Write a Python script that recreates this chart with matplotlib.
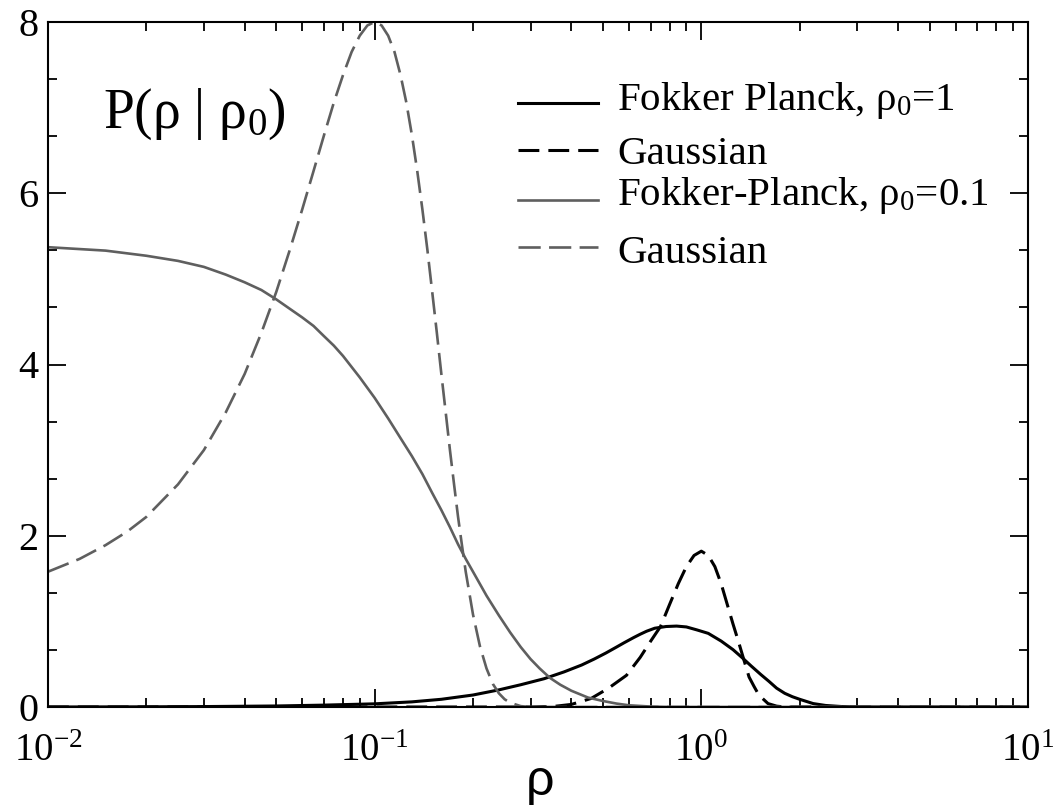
import matplotlib
matplotlib.use("Agg")
import matplotlib.pyplot as plt
from matplotlib.ticker import LogLocator, MultipleLocator, FixedFormatter, FixedLocator, NullFormatter

plt.rcParams['font.family'] = ['Liberation Serif', 'DejaVu Serif']
plt.rcParams['mathtext.fontset'] = 'custom'
plt.rcParams['mathtext.rm'] = 'Liberation Serif'
plt.rcParams['mathtext.it'] = 'Liberation Serif:italic'
plt.rcParams['mathtext.bf'] = 'Liberation Serif:bold'
plt.rcParams['lines.scale_dashes'] = False

# Fokker Planck, rho0 = 1 (black solid)
rho_fp1 = [0.01, 0.02, 0.03, 0.05, 0.07, 0.1, 0.13, 0.16, 0.2, 0.24, 0.28, 0.33, 0.38,
           0.43, 0.47, 0.51, 0.55, 0.58, 0.62, 0.65, 0.68, 0.72, 0.78, 0.84, 0.9, 0.97,
           1.05, 1.15, 1.25, 1.33, 1.42, 1.52, 1.61, 1.7, 1.8, 1.9, 2.0, 2.2, 2.4, 2.7,
           3.0, 10.0]
p_fp1 = [0.0, 0.002, 0.005, 0.012, 0.022, 0.037, 0.06, 0.09, 0.14, 0.2, 0.26, 0.33, 0.41,
         0.49, 0.56, 0.63, 0.70, 0.75, 0.81, 0.85, 0.885, 0.92, 0.94, 0.945, 0.935, 0.9,
         0.86, 0.77, 0.67, 0.58, 0.48, 0.38, 0.3, 0.22, 0.16, 0.12, 0.09, 0.04, 0.018, 0.005,
         0.0, 0.0]

# Gaussian, rho0 = 1 (black dashed)
rho_g1 = [0.01, 0.3, 0.35, 0.4, 0.46, 0.52, 0.59, 0.65, 0.7, 0.75, 0.8, 0.85, 0.9, 0.95,
          1.0, 1.05, 1.1, 1.15, 1.2, 1.25, 1.3, 1.35, 1.4, 1.45, 1.5, 1.6, 1.7, 1.8, 10.0]
p_g1 = [0.0, 0.0, 0.005, 0.03, 0.1, 0.22, 0.37, 0.58, 0.77, 0.94, 1.2, 1.44, 1.64, 1.77,
        1.82, 1.77, 1.64, 1.44, 1.2, 0.97, 0.76, 0.55, 0.35, 0.24, 0.14, 0.04, 0.01, 0.0, 0.0]

# Fokker-Planck, rho0 = 0.1 (grey solid)
rho_fp01 = [0.01, 0.015, 0.02, 0.025, 0.03, 0.035, 0.04, 0.045, 0.05, 0.055, 0.06, 0.065,
            0.07, 0.075, 0.08, 0.09, 0.1, 0.11, 0.12, 0.13, 0.14, 0.15, 0.16, 0.17, 0.18,
            0.19, 0.2, 0.22, 0.24, 0.26, 0.28, 0.3, 0.32, 0.344, 0.37, 0.4, 0.45, 0.5, 0.55,
            0.6, 0.7, 0.8, 10.0]
p_fp01 = [5.37, 5.33, 5.27, 5.21, 5.14, 5.05, 4.96, 4.87, 4.76, 4.65, 4.55, 4.45,
          4.33, 4.22, 4.1, 3.85, 3.61, 3.37, 3.14, 2.93, 2.72, 2.5, 2.3, 2.1, 1.9,
          1.73, 1.58, 1.3, 1.07, 0.87, 0.7, 0.56, 0.45, 0.34, 0.26, 0.19, 0.11, 0.07, 0.04,
          0.02, 0.005, 0.0, 0.0]

# Gaussian, rho0 = 0.1 (grey dashed)
rho_g01 = [0.01, 0.0125, 0.015, 0.0175, 0.02, 0.025, 0.03, 0.035, 0.04, 0.045, 0.05, 0.055,
           0.06, 0.065, 0.07, 0.075, 0.08, 0.085, 0.09, 0.095, 0.1, 0.105, 0.11, 0.115,
           0.12, 0.125, 0.13, 0.135, 0.14, 0.145, 0.15, 0.155, 0.16, 0.165, 0.17, 0.175,
           0.18, 0.185, 0.19, 0.2, 0.21, 0.22, 0.23, 0.24, 0.25, 0.26, 0.28, 0.3, 10.0]
p_g01 = [1.58, 1.73, 1.89, 2.05, 2.22, 2.6, 3.0, 3.44, 3.89, 4.37, 4.85, 5.34,
         5.81, 6.26, 6.68, 7.06, 7.38, 7.65, 7.84, 7.96, 8.0, 7.96, 7.84, 7.65,
         7.38, 7.06, 6.68, 6.26, 5.81, 5.34, 4.85, 4.37, 3.89, 3.44, 3.0, 2.6,
         2.22, 1.89, 1.58, 1.08, 0.71, 0.45, 0.27, 0.16, 0.09, 0.05, 0.01, 0.0, 0.0]

legend_labels = [r"Fokker Planck, $\mathrm{\rho}_0$=1",
                 "Gaussian",
                 r"Fokker-Planck, $\mathrm{\rho}_0$=0.1",
                 "Gaussian"]

x_ticks = [0.01, 0.1, 1.0, 10.0]
x_ticklabels = [r"$10^{-2}$", r"$10^{-1}$", r"$10^{0}$", r"$10^{1}$"]

W, H = 1055, 808
fig = plt.figure(figsize=(W / 100, H / 100), dpi=100)
# axes box in pixels: left 48, right 1028, top 22, bottom 707
L, R, T, B = 48, 1028, 22, 707
ax = fig.add_axes([L / W, 1 - B / H, (R - L) / W, (B - T) / H])

def px(x, y):
    # pixel position -> axes fraction
    return (x - L) / (R - L), (B - y) / (B - T)

grey = '#5f5f5f'
ax.plot(rho_fp1, p_fp1, color='black', lw=2.2)
ax.plot(rho_g1, p_g1, color='black', lw=2.2, dashes=(15, 6.5))
ax.plot(rho_fp01, p_fp01, color=grey, lw=1.9)
ax.plot(rho_g01, p_g01, color=grey, lw=1.9, dashes=(16, 6))

ax.set_xscale('log')
ax.set_xlim(0.01, 10)
ax.set_ylim(0, 8)

ax.xaxis.set_major_locator(FixedLocator(x_ticks))
ax.xaxis.set_major_formatter(FixedFormatter(x_ticklabels))
ax.xaxis.set_minor_locator(LogLocator(base=10, subs=range(2, 10)))
ax.xaxis.set_minor_formatter(NullFormatter())
ax.yaxis.set_major_locator(MultipleLocator(2))
ax.yaxis.set_minor_locator(MultipleLocator(2 / 3))

ax.tick_params(which='both', direction='in', top=True, right=True, width=1.3)
ax.tick_params(which='major', length=13)
ax.tick_params(which='minor', length=6.5)
ax.tick_params(axis='y', labelsize=29, pad=7)
ax.tick_params(axis='x', labelsize=28, pad=19)
for s in ax.spines.values():
    s.set_linewidth(1.5)

# legend drawn by hand to keep Grace-like spacing
handle_styles = [dict(color='black', lw=2.2),
                 dict(color='black', lw=2.2, dashes=(15, 6.5)),
                 dict(color=grey, lw=1.9),
                 dict(color=grey, lw=1.9, dashes=(16, 6))]
handle_y = [103, 150, 200, 247]
text_y = [110, 164, 205, 263]
for lab, st, hy, ty in zip(legend_labels, handle_styles, handle_y, text_y):
    x0, y0 = px(518, hy)
    x1, _ = px(598, hy)
    ax.plot([x0, x1], [y0, y0], transform=ax.transAxes, clip_on=False, **st)
    tx, tyf = px(617, ty)
    ax.text(tx, tyf, lab, transform=ax.transAxes, fontsize=29.5, va='baseline', ha='left')

tx, tyf = px(103, 128)
ax.text(tx, tyf, r"P($\mathrm{\rho}$ | $\mathrm{\rho}_0$)", transform=ax.transAxes,
        fontsize=40, va='baseline', ha='left')

fig.text(540 / W, 1 - 795 / H, "ρ", fontsize=36, family='Liberation Sans',
         ha='center', va='baseline')

fig.savefig("out.png", dpi=100)
